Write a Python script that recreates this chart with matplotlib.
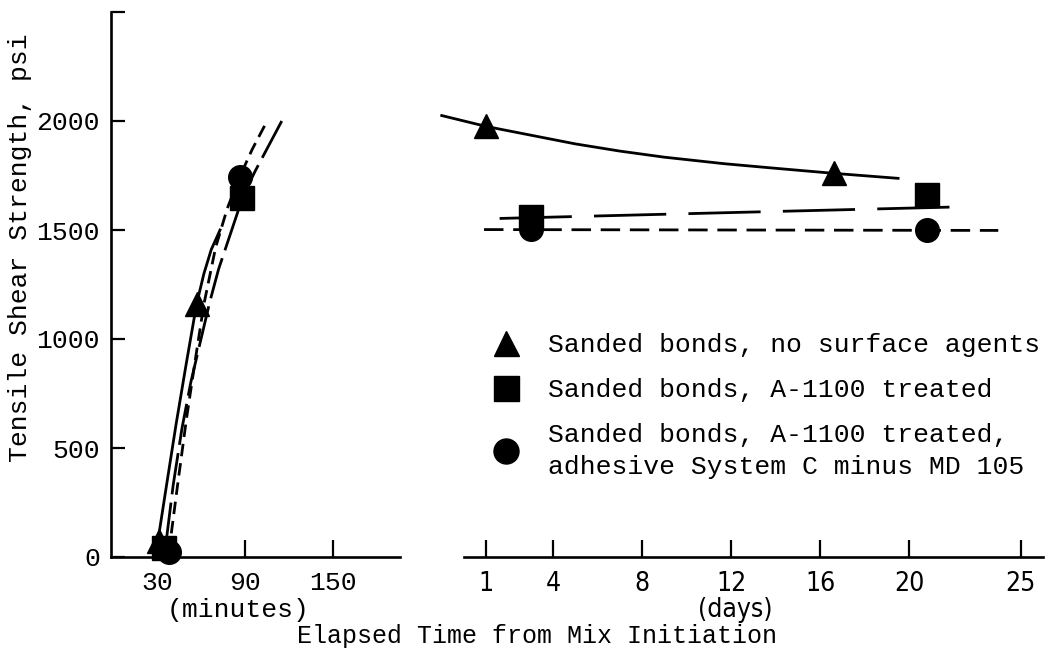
import matplotlib
matplotlib.use('Agg')
import matplotlib.pyplot as plt
from matplotlib.lines import Line2D

plt.rcParams['font.family'] = ['Liberation Mono', 'DejaVu Sans']
plt.rcParams['lines.scale_dashes'] = False
narrow = ['Liberation Sans Narrow', 'DejaVu Sans']

# measured points, minutes panel
min_tri = [31, 57]
psi_min_tri = [75, 1160]
min_sq = [35, 88]
psi_min_sq = [40, 1645]
min_ci = [38, 86.5]
psi_min_ci = [25, 1745]

# measured points, days panel
day_tri = [1, 16.6]
psi_day_tri = [1975, 1760]
day_sq = [3, 20.8]
psi_day_sq = [1560, 1660]
day_ci = [3, 20.8]
psi_day_ci = [1505, 1500]

# hand-drawn curves
curve_min_solid = [30, 36, 43, 50, 57, 62, 67, 73]
curve_psi_solid = [50, 310, 610, 890, 1160, 1300, 1410, 1500]
curve_min_long = [36, 41, 47, 53, 60, 66, 72, 79, 85, 88, 97, 116]
curve_psi_long = [60, 330, 590, 800, 1000, 1170, 1320, 1460, 1580, 1645, 1770, 2010]
curve_min_short = [38, 44, 50, 56, 62, 70, 78, 86.5, 95, 104]
curve_psi_short = [20, 330, 630, 900, 1160, 1420, 1600, 1745, 1870, 1985]

curve_day_solid = [-1.0, 1, 3, 5, 7, 9, 11.7, 14, 16.6, 19.5]
curve_dpsi_solid = [2025, 1975, 1935, 1895, 1862, 1834, 1804, 1783, 1760, 1737]
curve_day_long = [1.6, 12, 22.6]
curve_dpsi_long = [1553, 1580, 1607]
curve_day_short = [0.9, 12, 24]
curve_dpsi_short = [1502, 1500, 1498]

min_ticks = [30, 90, 150]
day_ticks = [1, 4, 8, 12, 16, 20, 25]
psi_ticks = [0, 500, 1000, 1500, 2000, 2500]
psi_labels = ['0', '500', '1000', '1500', '2000', '']

legend_labels = ['Sanded bonds, no surface agents',
                 'Sanded bonds, A-1100 treated',
                 'Sanded bonds, A-1100 treated,\nadhesive System C minus MD 105']

W, H = 1046, 667
fig = plt.figure(figsize=(W / 100, H / 100), dpi=100)
ax1 = fig.add_axes([111 / W, 110 / H, 289 / W, 545 / H])
ax2 = fig.add_axes([439.5 / W, 110 / H, 603.3 / W, 545 / H])

lw = 2.0
ms = 17

# minutes panel
ax1.plot(curve_min_solid, curve_psi_solid, color='black', lw=lw)
ax1.plot(curve_min_long, curve_psi_long, color='black', lw=lw, dashes=(30, 6))
ax1.plot(curve_min_short, curve_psi_short, color='black', lw=lw, dashes=(9, 5))
ax1.plot(min_tri, psi_min_tri, '^', color='black', ms=ms, clip_on=False, zorder=5)
ax1.plot(min_sq, psi_min_sq, 's', color='black', ms=ms, clip_on=False, zorder=5)
ax1.plot(min_ci, psi_min_ci, 'o', color='black', ms=ms, clip_on=False, zorder=5)

ax1.set_xlim(-1.5, 196)
ax1.set_ylim(0, 2500)
ax1.set_xticks(min_ticks)
ax1.set_xticklabels([str(t) for t in min_ticks])
ax1.set_yticks(psi_ticks)
ax1.set_yticklabels(psi_labels)
ax1.spines['top'].set_visible(False)
ax1.spines['right'].set_visible(False)
for s in ['left', 'bottom']:
    ax1.spines[s].set_linewidth(1.9)
ax1.tick_params(axis='y', direction='in', length=10, width=1.6, labelsize=19, pad=8)
ax1.tick_params(axis='x', direction='in', length=12, width=1.6, labelsize=19, pad=10)

# days panel
ax2.plot(curve_day_solid, curve_dpsi_solid, color='black', lw=lw, clip_on=False)
ax2.plot(curve_day_long, curve_dpsi_long, color='black', lw=lw, dashes=(52, 16))
ax2.plot(curve_day_short, curve_dpsi_short, color='black', lw=lw, dashes=(14, 7))
ax2.plot(day_tri, psi_day_tri, '^', color='black', ms=ms, zorder=5)
ax2.plot(day_sq, psi_day_sq, 's', color='black', ms=ms, zorder=5)
ax2.plot(day_ci, psi_day_ci, 'o', color='black', ms=ms, zorder=5)

ax2.set_xlim(-1.1, 26)
ax2.set_ylim(0, 2500)
ax2.set_xticks(day_ticks)
ax2.set_xticklabels([str(t) for t in day_ticks], family=narrow,
                    fontstretch='condensed', fontsize=19)
ax2.set_yticks([])
for s in ['left', 'top', 'right']:
    ax2.spines[s].set_visible(False)
ax2.spines['bottom'].set_linewidth(1.9)
ax2.spines['bottom'].set_bounds(0, 26)
ax2.tick_params(axis='x', direction='in', length=12, width=1.6, pad=10)
ax1.patch.set_alpha(0)
ax2.patch.set_alpha(0)

handles = [Line2D([], [], marker=m, ls='none', color='black', ms=ms + 1)
           for m in ['^', 's', 'o']]
leg = fig.legend(handles, legend_labels, loc='upper left',
                 bbox_to_anchor=(493 / W, 1 - 333 / H), bbox_transform=fig.transFigure,
                 frameon=False, fontsize=19, borderpad=0, borderaxespad=0,
                 handlelength=1.0, handletextpad=1.1, labelspacing=0.8)
for t in leg.get_texts():
    t.set_linespacing(1.4)

fig.text(20 / W, 1 - 248 / H, 'Tensile Shear Strength, psi', rotation=90,
         ha='center', va='center', fontsize=19)
fig.text(238 / W, 1 - 610 / H, '(minutes)', ha='center', va='center', fontsize=19)
fig.text(735 / W, 1 - 610 / H, '(days)', ha='center', va='center',
         family=narrow, fontstretch='condensed', fontsize=19)
fig.text(537 / W, 1 - 636 / H, 'Elapsed Time from Mix Initiation',
         ha='center', va='center', fontsize=18)

fig.savefig('out.png', dpi=100)
